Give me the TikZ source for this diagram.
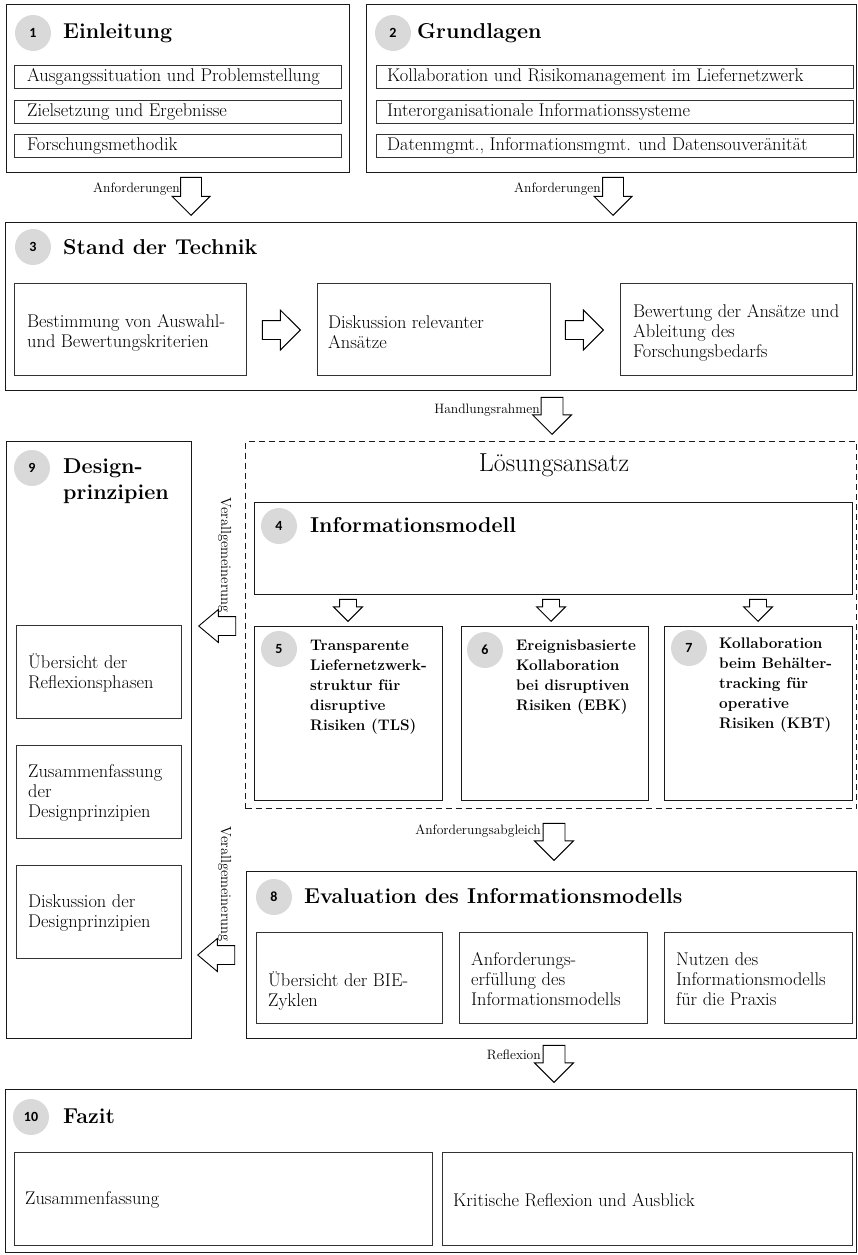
\documentclass[tikz,border=0pt]{standalone}
\usepackage{fontspec}
\newfontfamily\numfont{Carlito}
\usetikzlibrary{shapes.arrows,calc}
\begin{document}
\begin{tikzpicture}[x=1pt,y=-1pt,
  outer/.style={draw=black!90,line width=1.2pt,anchor=north west,inner sep=0pt},
  sub/.style={draw=black!80,line width=0.8pt,anchor=north west,inner sep=0pt},
  dashbox/.style={draw=black!90,line width=1.2pt,dash pattern=on 6pt off 4pt,anchor=north west,inner sep=0pt},
  num/.style={circle,fill=black!15,minimum size=36pt,inner sep=0pt,font=\numfont\bfseries\fontsize{14}{14}\selectfont},
  ttl/.style={anchor=base west,inner sep=0pt,font=\bfseries\fontsize{21.5}{26}\selectfont,align=left},
  body/.style={anchor=west,inner sep=0pt,font=\fontsize{18.4}{20}\selectfont,align=left},
  boldtxt/.style={anchor=north west,inner sep=0pt,font=\bfseries\fontsize{15.3}{20}\selectfont,align=left},
  lbl/.style={anchor=base east,inner sep=0pt,font=\fontsize{13.6}{15}\selectfont},
  vlbl/.style={anchor=base east,inner sep=0pt,rotate=-90,font=\fontsize{14.6}{16}\selectfont},
  blk/.style n args={4}{single arrow,draw=black,line width=0.9pt,fill=white,inner xsep=0pt,minimum height=#1,minimum width=#2,inner ysep=#3,single arrow head extend=#4,anchor=tip},
]
\useasboundingbox (0,0) rectangle (858,1255);

% ---------- Box 1
\node[outer,minimum width=343pt,minimum height=168pt] (b1) at (6,4) {};
\node[num] (c1) at (33,33) {1};
\node[ttl] (t1) at (63,38) {Einleitung};
\node[sub,minimum width=327pt,minimum height=23pt] (s1a) at (14,65) {};
\node[sub,minimum width=327pt,minimum height=23pt] (s1b) at (14,100) {};
\node[sub,minimum width=327pt,minimum height=23pt] (s1c) at (14,134) {};
\node[body] (x1a) at ($(s1a.west)+(13,0)$) {Ausgangssituation und Problemstellung};
\node[body] (x1b) at ($(s1b.west)+(13,0)$) {Zielsetzung und Ergebnisse};
\node[body] (x1c) at ($(s1c.west)+(13,0)$) {Forschungsmethodik};

% ---------- Box 2
\node[outer,minimum width=490pt,minimum height=168pt] (b2) at (366,4) {};
\node[num] (c2) at (393,33) {2};
\node[ttl] (t2) at (417,38) {Grundlagen};
\node[sub,minimum width=477pt,minimum height=23pt] (s2a) at (376,65) {};
\node[sub,minimum width=477pt,minimum height=23pt] (s2b) at (376,100) {};
\node[sub,minimum width=477pt,minimum height=23pt] (s2c) at (376,134) {};
\node[body] (x2a) at ($(s2a.west)+(11,0)$) {Kollaboration und Risikomanagement im Liefernetzwerk};
\node[body] (x2b) at ($(s2b.west)+(11,0)$) {Interorganisationale Informationssysteme};
\node[body] (x2c) at ($(s2c.west)+(11,0)$) {Datenmgmt., Informationsmgmt. und Datensouveränität};

% ---------- arrows Anforderungen
\node[blk={38pt}{37pt}{10pt}{8.5pt},rotate=-90] (a1) at (191,216) {};
\node[lbl] (l1) at (180,192) {Anforderungen};
\node[blk={38pt}{37pt}{10pt}{8.5pt},rotate=-90] (a2) at (613,216) {};
\node[lbl] (l2) at (601,192) {Anforderungen};

% ---------- Box 3
\node[outer,minimum width=851pt,minimum height=168pt] (b3) at (5,222) {};
\node[num] (c3) at (33,247) {3};
\node[ttl] (t3) at (63,254) {Stand der Technik};
\node[sub,minimum width=232pt,minimum height=92pt] (s3a) at (14,283) {};
\node[sub,minimum width=233pt,minimum height=92pt] (s3b) at (317,283) {};
\node[sub,minimum width=232pt,minimum height=92pt] (s3c) at (620,283) {};
\node[body] (x3a) at ($(s3a.west)+(13,3)$) {Bestimmung von Auswahl-\\und Bewertungskriterien};
\node[body] (x3b) at ($(s3b.west)+(11,3)$) {Diskussion relevanter\\Ansätze};
\node[body] (x3c) at ($(s3c.west)+(13,3)$) {Bewertung der Ansätze und\\Ableitung des\\Forschungsbedarfs};
\node[blk={38pt}{39pt}{9pt}{10.5pt}] (h1) at (301,330) {};
\node[blk={38pt}{39pt}{9pt}{10.5pt}] (h2) at (604,330) {};

% ---------- Handlungsrahmen
\node[blk={37pt}{38pt}{10.5pt}{8.5pt},rotate=-90] (a3) at (552,435) {};
\node[lbl] (l3) at (540,413) {Handlungsrahmen};

% ---------- Box 9
\node[outer,minimum width=185pt,minimum height=597pt] (b9) at (6,441) {};
\node[num] (c9) at (32,468) {9};
\node[ttl,anchor=north west] (t9) at (63,459) {Design-\\prinzipien};
\node[sub,minimum width=165pt,minimum height=93pt] (s9a) at (16,625) {};
\node[sub,minimum width=165pt,minimum height=93pt] (s9b) at (16,745) {};
\node[sub,minimum width=165pt,minimum height=93pt] (s9c) at (16,865) {};
\node[body] (x9a) at ($(s9a.west)+(12,1)$) {Übersicht der\\Reflexionsphasen};
\node[body] (x9b) at ($(s9b.west)+(12,1)$) {Zusammenfassung\\der\\Designprinzipien};
\node[body] (x9c) at ($(s9c.west)+(12,1)$) {Diskussion der\\Designprinzipien};

% ---------- Loesungsansatz
\node[dashbox,minimum width=611pt,minimum height=367pt] (ls) at (245,441) {};
\node[inner sep=0pt,font=\fontsize{26}{30}\selectfont] (lt) at (554,465) {Lösungsansatz};
\node[outer,minimum width=598pt,minimum height=92pt] (b4) at (254,502) {};
\node[num] (c4) at (279,526) {4};
\node[ttl] (t4) at (310,532) {Informationsmodell};

\node[blk={22pt}{28pt}{8pt}{6pt},rotate=-90] (d5) at (348,622) {};
\node[blk={22pt}{28pt}{8pt}{6pt},rotate=-90] (d6) at (551,622) {};
\node[blk={22pt}{28pt}{8pt}{6pt},rotate=-90] (d7) at (758,622) {};

\node[outer,minimum width=188pt,minimum height=174pt] (b5) at (254,626) {};
\node[outer,minimum width=187pt,minimum height=174pt] (b6) at (461,626) {};
\node[outer,minimum width=188pt,minimum height=174pt] (b7) at (664,626) {};
\node[num] (c5) at (279,649) {5};
\node[num] (c6) at (485,650) {6};
\node[num] (c7) at (689,648) {7};
\node[boldtxt] (x5) at (310,640) {Transparente\\Liefernetzwerk-\\struktur für\\disruptive\\Risiken (TLS)};
\node[boldtxt] (x6) at (516,640) {Ereignisbasierte\\Kollaboration\\bei disruptiven\\Risiken (EBK)};
\node[boldtxt] (x7) at (719,638) {Kollaboration\\beim Behälter-\\tracking für\\operative\\Risiken (KBT)};

% ---------- Verallgemeinerung 1
\node[blk={37pt}{32pt}{9pt}{7pt},single arrow tip angle=80,rotate=180] (v1) at (198,626) {};
\node[vlbl] (lv1) at (221,613) {Verallgemeinerung};

% ---------- Anforderungsabgleich
\node[blk={37pt}{38pt}{10.5pt}{8.5pt},rotate=-90] (a4) at (554,861) {};
\node[lbl] (l4) at (541,834) {Anforderungsabgleich};

% ---------- Box 8
\node[outer,minimum width=610pt,minimum height=167pt] (b8) at (246,871) {};
\node[num] (c8) at (274,897) {8};
\node[ttl] (t8) at (304,903) {Evaluation des Informationsmodells};
\node[sub,minimum width=186pt,minimum height=91pt] (s8a) at (256,932) {};
\node[sub,minimum width=188pt,minimum height=91pt] (s8b) at (459,932) {};
\node[sub,minimum width=188pt,minimum height=91pt] (s8c) at (664,932) {};
\node[body] (x8a) at ($(s8a.west)+(12,13)$) {Übersicht der BIE-\\Zyklen};
\node[body] (x8b) at ($(s8b.west)+(12,1)$) {Anforderungs-\\erfüllung des\\Informationsmodells};
\node[body] (x8c) at ($(s8c.west)+(12,1)$) {Nutzen des\\Informationsmodells\\für die Praxis};

% ---------- Verallgemeinerung 2
\node[blk={37pt}{32pt}{9pt}{7pt},single arrow tip angle=80,rotate=180] (v2) at (197,955) {};
\node[vlbl] (lv2) at (221,942) {Verallgemeinerung};

% ---------- Reflexion
\node[blk={37pt}{38pt}{10.5pt}{8.5pt},rotate=-90] (a5) at (554,1083) {};
\node[lbl] (l5) at (541,1059) {Reflexion};

% ---------- Box 10
\node[outer,minimum width=851pt,minimum height=163pt] (b10) at (5,1089) {};
\node[num] (c10) at (31,1117) {10};
\node[ttl] (t10) at (63,1123) {Fazit};
\node[sub,minimum width=418pt,minimum height=93pt] (s10a) at (14,1152) {};
\node[sub,minimum width=410pt,minimum height=93pt] (s10b) at (442,1152) {};
\node[body] (x10a) at ($(s10a.west)+(11,1)$) {Zusammenfassung};
\node[body] (x10b) at ($(s10b.west)+(11,1)$) {Kritische Reflexion und Ausblick};
\end{tikzpicture}
\end{document}
